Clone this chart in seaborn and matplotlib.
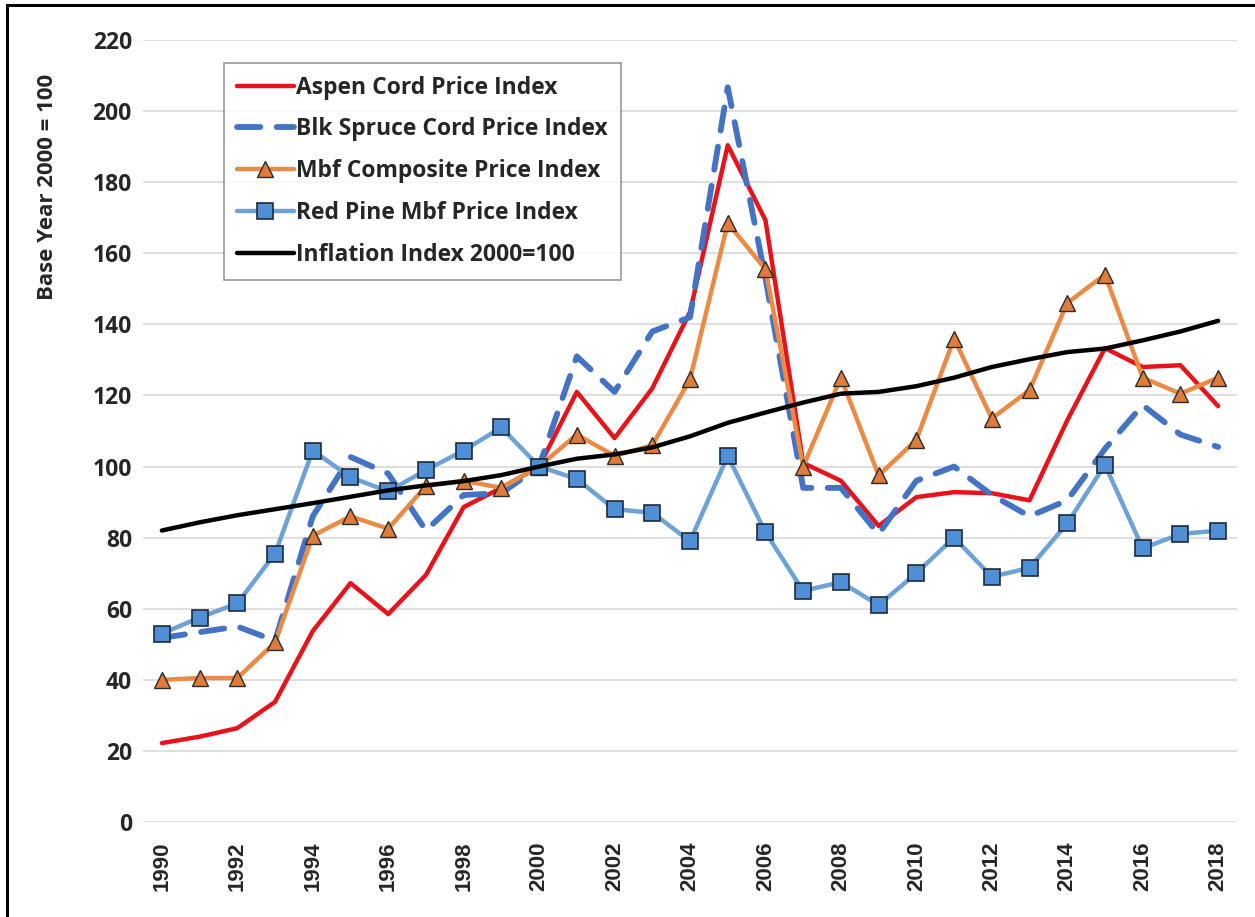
import matplotlib
matplotlib.use('Agg')
import matplotlib.pyplot as plt
import seaborn as sns
import pandas as pd
from matplotlib.patches import Rectangle

# index values, base year 2000 = 100
years = list(range(1990, 2019))
aspen = [22.2, 24, 26.4, 33.8, 53.7, 67.2, 58.5, 69.5, 88.6, 94, 100, 121, 108, 122, 143.5,
         190.4, 169.3, 101, 96, 83.3, 91.4, 92.8, 92.5, 90.5, 113, 133.3, 128, 128.5, 117]
blk_spruce = [51.8, 53.4, 55, 51, 86, 102.7, 98, 82, 92, 92.5, 100, 131, 121, 138, 142,
              206.7, 153, 94, 94, 81, 96, 100, 92, 86, 90.5, 105, 117.3, 109, 105.5]
mbf_composite = [40, 40.5, 40.5, 50.5, 80.5, 86, 82.5, 94.5, 96, 94, 100, 109, 103, 106, 124.5,
                 168.5, 155.5, 100, 125, 97.5, 107.5, 136, 113.5, 121.5, 146, 154, 125, 120.5, 125]
red_pine = [53, 57.5, 61.5, 75.5, 104.5, 97, 93, 99, 104.5, 111, 100, 96.5, 88, 87, 79,
            103, 81.5, 65, 67.5, 61, 70, 80, 69, 71.5, 84, 100.5, 77, 81, 82]
inflation = [82, 84.3, 86.3, 88, 89.7, 91.5, 93.3, 94.7, 95.9, 97.6, 100, 102.2, 103.4, 105.4,
             108.5, 112.3, 115.2, 118, 120.5, 121, 122.6, 125, 128, 130.2, 132.2, 133.2, 135.5,
             138, 141]

df = pd.DataFrame({'year': years, 'aspen': aspen, 'blk': blk_spruce,
                   'mbf': mbf_composite, 'pine': red_pine, 'infl': inflation})

sns.set_style('white')
plt.rcParams['font.family'] = ['Open Sans', 'DejaVu Sans']

fig = plt.figure(figsize=(12.55, 9.17), dpi=100)
ax = fig.add_axes([143/1255, 1 - 822/917, (1237 - 143)/1255, (822 - 40)/917])

sns.lineplot(data=df, x='year', y='aspen', ax=ax, color='#E8121B', lw=3.2,
             label='Aspen Cord Price Index')
sns.lineplot(data=df, x='year', y='blk', ax=ax, color='#4472C4', lw=4.2,
             linestyle=(0, (4, 2.8)), dash_capstyle='round',
             label='Blk Spruce Cord Price Index')
sns.lineplot(data=df, x='year', y='mbf', ax=ax, color='#EB8A45', lw=3.2,
             marker='^', markersize=11, markerfacecolor='#E07B39',
             markeredgecolor='#2b2b2b', markeredgewidth=1.0,
             label='Mbf Composite Price Index')
sns.lineplot(data=df, x='year', y='pine', ax=ax, color='#6CA2D6', lw=3.2,
             marker='s', markersize=11, markerfacecolor='#4F8FD6',
             markeredgecolor='#1f2a3a', markeredgewidth=1.2,
             label='Red Pine Mbf Price Index')
sns.lineplot(data=df, x='year', y='infl', ax=ax, color='black', lw=3.2,
             label='Inflation Index 2000=100')

ax.set_xlim(1989.5, 2018.5)
ax.set_ylim(0, 220)
ax.set_yticks(range(0, 221, 20))
ax.set_xticks(range(1990, 2019, 2))
ax.yaxis.grid(True, color='#d9d9d9', lw=1.2)
ax.xaxis.grid(False)
for s in ax.spines.values():
    s.set_visible(False)

ax.tick_params(axis='y', length=0, pad=8)
ax.tick_params(axis='x', length=0, pad=14)
for t in ax.get_yticklabels():
    t.set_fontsize(16.5)
    t.set_fontweight('bold')
for t in ax.get_xticklabels():
    t.set_fontsize(16)
    t.set_fontweight('bold')
    t.set_rotation(90)
    t.set_family(['Liberation Sans', 'DejaVu Sans'])

ax.set_xlabel('')
ax.set_ylabel('Base Year 2000 = 100', fontsize=16, fontweight='bold')
ax.yaxis.set_label_coords(-0.078, (822 - 187) / 782)

leg = ax.legend(loc='upper left', bbox_to_anchor=(224/1255, 1 - 63/917),
                bbox_transform=fig.transFigure, frameon=True, fancybox=False,
                prop={'size': 16.5, 'weight': 'bold'}, handlelength=2.5,
                handletextpad=0.1, labelspacing=0.78, borderpad=0.55, borderaxespad=0)
leg.get_frame().set_edgecolor('#7f7f7f')
leg.get_frame().set_linewidth(1.2)

# outer frame of the picture
fig.patches.append(Rectangle((7/1255, -0.02), 1.0, 1 - 5/917 + 0.02,
                             transform=fig.transFigure, fill=False,
                             edgecolor='black', lw=2.2))

plt.savefig('out.png', dpi=100)
